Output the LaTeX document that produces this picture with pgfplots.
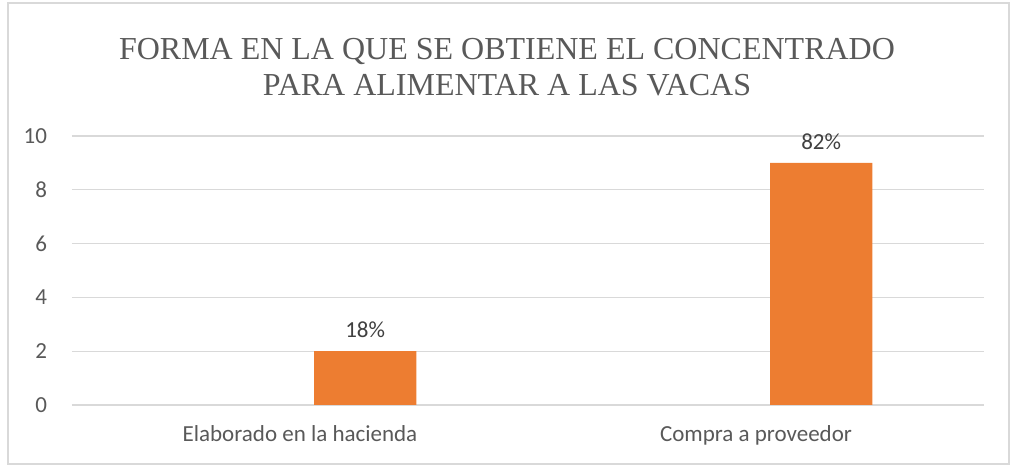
\documentclass[border=0pt]{standalone}
\usepackage{pgfplots}
\pgfplotsset{compat=1.18}
\usepackage{fontspec}
\setmainfont{Carlito}
\newfontfamily\titlefont{Liberation Serif}
\definecolor{barorange}{HTML}{ED7D31}
\definecolor{gridgray}{HTML}{D9D9D9}
\definecolor{txtgray}{HTML}{595959}
\definecolor{lblgray}{HTML}{404040}

\begin{document}
\begin{tikzpicture}
\useasboundingbox (-36pt,-30.5pt) rectangle (471pt,202.5pt);
\draw[gridgray, line width=0.6pt] (-32pt,-29.5pt) rectangle (468.5pt,201pt);
\begin{axis}[
    at={(0,0)}, anchor=south west,
    scale only axis,
    width=456pt,
    height=134.5pt,
    xmin=-0.5, xmax=1.5,
    ymin=0, ymax=10,
    ytick={0,2,...,10},
    xtick={0,1},
    xticklabels={Elaborado en la hacienda, Compra a proveedor},
    ymajorgrids,
    grid style={gridgray, line width=0.6pt},
    axis line style={draw=none},
    major tick length=0pt,
    ybar,
    bar width=0.224,
    bar shift=0.143,
    tick label style={font=\fontsize{11.5}{13}\selectfont, text=txtgray},
    yticklabel style={xshift=-9pt},
    xticklabel style={yshift=-6.5pt},
    /pgf/number format/assume math mode=true,
    point meta=explicit symbolic,
    nodes near coords,
    nodes near coords style={font=\fontsize{11.5}{13}\selectfont, text=lblgray, yshift=3pt},
    clip=false,
]
\addplot[fill=barorange, draw=none] coordinates {(0,2) [18\%] (1,9) [82\%]};
\end{axis}
\node[font=\titlefont\fontsize{16}{18}\selectfont, text=txtgray, align=center] at (217.5pt,169pt)
  {FORMA EN LA QUE SE OBTIENE EL CONCENTRADO\\PARA ALIMENTAR A LAS VACAS};
\end{tikzpicture}
\end{document}
